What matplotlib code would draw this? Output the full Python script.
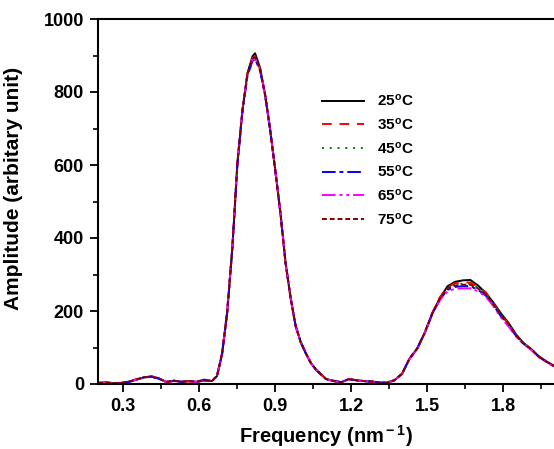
import matplotlib
matplotlib.use('Agg')
import matplotlib.pyplot as plt
from matplotlib.ticker import MultipleLocator

plt.rcParams['font.family'] = ['Liberation Sans', 'DejaVu Sans']
plt.rcParams['font.weight'] = 'bold'
plt.rcParams['mathtext.fontset'] = 'custom'
plt.rcParams['mathtext.rm'] = 'Liberation Sans:bold'
plt.rcParams['mathtext.it'] = 'Liberation Sans:bold'
plt.rcParams['mathtext.bf'] = 'Liberation Sans:bold'

# frequency grid (nm^-1)
freq = [0.20, 0.23, 0.26, 0.29, 0.32, 0.35, 0.38, 0.41, 0.44, 0.47,
        0.50, 0.53, 0.56, 0.59, 0.62, 0.65, 0.67, 0.69, 0.71, 0.73,
        0.75, 0.77, 0.79, 0.81, 0.82, 0.84, 0.86, 0.88, 0.90, 0.92,
        0.94, 0.96, 0.98, 1.00, 1.02, 1.04, 1.06, 1.08, 1.10, 1.13,
        1.16, 1.19, 1.22, 1.25, 1.28, 1.31, 1.34, 1.37, 1.40, 1.43,
        1.46, 1.49, 1.52, 1.55, 1.58, 1.61, 1.64, 1.67, 1.70, 1.73,
        1.76, 1.79, 1.82, 1.85, 1.88, 1.91, 1.94, 1.97, 2.00]

amp_25 = [3, 4, 2, 3, 6, 12, 18, 21, 15, 5,
          9, 6, 8, 6, 10, 8, 22, 82, 195, 368,
          600, 748, 852, 898, 906, 866, 792, 695, 585, 470,
          335, 238, 160, 116, 85, 58, 40, 27, 14, 8,
          4, 14, 10, 8, 7, 4, 3, 10, 28, 70,
          97, 140, 194, 236, 268, 280, 284, 285, 270, 250,
          224, 194, 168, 136, 112, 96, 76, 62, 50]
amp_35 = [4, 3, 3, 2, 7, 13, 17, 20, 16, 6,
          8, 7, 7, 7, 9, 9, 24, 85, 200, 372,
          605, 750, 850, 893, 898, 862, 790, 693, 583, 468,
          333, 236, 158, 114, 84, 57, 39, 26, 13, 9,
          5, 13, 11, 8, 6, 5, 4, 11, 27, 69,
          96, 142, 196, 238, 266, 276, 278, 278, 266, 252,
          222, 190, 166, 134, 111, 95, 75, 61, 49]
amp_45 = [3, 4, 2, 3, 6, 11, 19, 22, 14, 5,
          9, 6, 8, 6, 11, 8, 23, 83, 197, 370,
          602, 748, 848, 890, 895, 860, 790, 694, 584, 469,
          334, 237, 159, 115, 85, 58, 40, 27, 14, 8,
          4, 14, 10, 8, 7, 4, 3, 10, 28, 70,
          97, 140, 193, 234, 262, 272, 275, 275, 264, 247,
          220, 190, 165, 134, 111, 95, 75, 62, 50]
amp_55 = [2, 4, 3, 3, 5, 12, 18, 20, 15, 6,
          9, 6, 8, 7, 12, 8, 22, 84, 198, 370,
          600, 744, 844, 885, 890, 858, 789, 693, 583, 468,
          334, 237, 159, 115, 84, 57, 39, 26, 13, 9,
          5, 13, 10, 8, 6, 5, 3, 11, 28, 70,
          98, 141, 193, 232, 258, 266, 268, 268, 258, 243,
          217, 186, 162, 132, 110, 95, 74, 61, 49]
amp_65 = [3, 3, 2, 3, 6, 12, 17, 21, 16, 5,
          8, 7, 7, 6, 10, 9, 23, 84, 199, 371,
          603, 749, 848, 889, 893, 861, 791, 694, 584, 469,
          334, 237, 159, 115, 85, 58, 40, 27, 14, 8,
          4, 14, 10, 8, 7, 4, 3, 10, 27, 69,
          96, 140, 192, 230, 254, 261, 262, 262, 254, 240,
          214, 183, 158, 130, 109, 94, 73, 60, 48]
amp_75 = [3, 4, 3, 2, 6, 12, 18, 20, 15, 6,
          9, 6, 8, 6, 10, 8, 23, 84, 198, 371,
          603, 749, 849, 891, 895, 862, 791, 694, 584, 469,
          334, 237, 159, 115, 85, 58, 40, 27, 14, 8,
          5, 13, 10, 8, 7, 4, 3, 10, 28, 70,
          97, 141, 194, 235, 263, 270, 272, 272, 262, 246,
          219, 188, 164, 133, 111, 95, 75, 61, 49]

labels = [r'25$^{\rm o}$C', r'35$^{\rm o}$C', r'45$^{\rm o}$C',
          r'55$^{\rm o}$C', r'65$^{\rm o}$C', r'75$^{\rm o}$C']
series = [amp_25, amp_35, amp_45, amp_55, amp_65, amp_75]
colors = ['black', '#ff0000', '#008000', '#0000ff', '#ff00ff', '#800000']
styles = ['-', (0, (5, 4)), (0, (1, 3)), (0, (7, 2, 2, 2)),
          (0, (7, 2, 1.5, 2, 1.5, 2)), (0, (2.5, 1.5))]

fig = plt.figure(figsize=(5.54, 4.49), dpi=100)
ax = fig.add_axes([98 / 554, 1 - 384 / 449, 1 - 98 / 554, 365 / 449])

for amp, lab, col, ls in zip(series, labels, colors, styles):
    ax.plot(freq, amp, color=col, linestyle=ls, linewidth=1.4, label=lab)

ax.set_xlim(0.2, 2.0)
ax.set_ylim(0, 1000)
ax.xaxis.set_minor_locator(MultipleLocator(0.15))
ax.yaxis.set_major_locator(MultipleLocator(200))
ax.yaxis.set_minor_locator(MultipleLocator(100))
ax.set_xticks([0.3, 0.6, 0.9, 1.2, 1.5, 1.8])
ax.set_xticklabels(['0.3', '0.6', '0.9', '1.2', '1.5', '1.8'])

ax.tick_params(which='major', direction='out', length=6, width=1.3,
               labelsize=13, top=False, right=False, pad=4)
ax.tick_params(which='minor', direction='out', length=3.5, width=1.2,
               top=False, right=False)
for sp in ['left', 'bottom', 'top']:
    ax.spines[sp].set_linewidth(1.5)
ax.spines['right'].set_visible(False)

ax.set_xlabel(r'Frequency (nm$^{\rm -1}$)', fontsize=14.5, fontweight='bold',
              labelpad=6)
ax.set_ylabel('Amplitude (arbitary unit)', fontsize=15, fontweight='bold')
ax.yaxis.set_label_coords(-0.165, 0.537)

leg = ax.legend(loc='upper left', bbox_to_anchor=(0.46, 0.835), frameon=False,
                fontsize=11, handlelength=2.8, labelspacing=0.5,
                handletextpad=0.8)

fig.savefig('out.png', dpi=100)
